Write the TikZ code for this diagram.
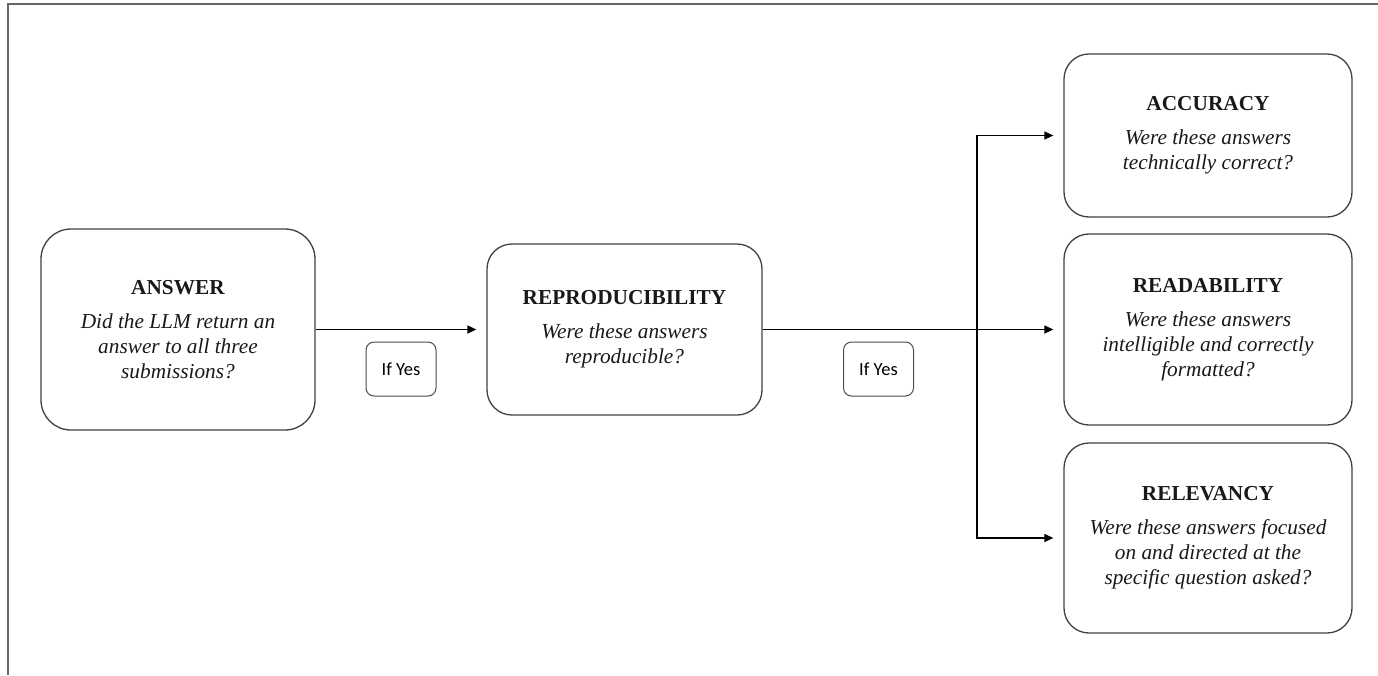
\documentclass[tikz,border=0pt]{standalone}
\usepackage{fontspec}
\setmainfont{Liberation Serif}
\newfontfamily\calfont{Carlito}
\usetikzlibrary{arrows.meta}
\begin{document}
\begin{tikzpicture}[x=1pt,y=-1pt,
  bigbox/.style={draw=black!75,line width=1.3pt,rounded corners=#1,inner sep=0pt,
    align=center,font=\fontsize{21.3}{25}\selectfont,text=black!90},
  bigbox/.default=25pt,
  yesbox/.style={draw=black!70,line width=1pt,rounded corners=8pt,inner sep=0pt,
    minimum width=70pt,minimum height=54pt,font=\calfont\fontsize{18.5}{20}\selectfont},
  conn/.style={line width=1.3pt,black},
  arr/.style={conn,-{Triangle[length=9pt,width=8pt]},shorten >=10pt}]
\useasboundingbox (0,0) rectangle (1378,675);
\draw[black!60,line width=1.5pt] (1378,4) -- (8,4) -- (8,675);
% boxes
\node[bigbox=30pt,minimum width=274pt,minimum height=201pt] (ans) at (178,329.5)
  {\textbf{ANSWER}\\[9pt]\textit{Did the LLM return an}\\\textit{answer to all three}\\\textit{submissions?}};
\node[bigbox,minimum width=275pt,minimum height=171pt] (rep) at (624.5,329.5)
  {\textbf{REPRODUCIBILITY}\\[9pt]\textit{Were these answers}\\\textit{reproducible?}};
\node[bigbox,minimum width=288pt,minimum height=163pt] (acc) at (1208,135.5)
  {\textbf{ACCURACY}\\[9pt]\textit{Were these answers}\\\textit{technically correct?}};
\node[bigbox,minimum width=288pt,minimum height=191pt] (rea) at (1208,329.5)
  {\textbf{READABILITY}\\[9pt]\textit{Were these answers}\\\textit{intelligible and correctly}\\\textit{formatted?}};
\node[bigbox,minimum width=288pt,minimum height=190pt] (rel) at (1208,538)
  {\textbf{RELEVANCY}\\[9pt]\textit{Were these answers focused}\\\textit{on and directed at the}\\\textit{specific question asked?}};
\node[yesbox] (y1) at (401,369) {If Yes};
\node[yesbox] (y2) at (878.5,369) {If Yes};
% connectors
\coordinate (j) at (977,329.5);
\draw[arr] (ans.east) -- (rep.west);
\draw[arr] (rep.east) -- (rea.west);
\draw[arr] (j) |- (acc.west);
\draw[arr] (j) |- (rel.west);
\end{tikzpicture}
\end{document}
